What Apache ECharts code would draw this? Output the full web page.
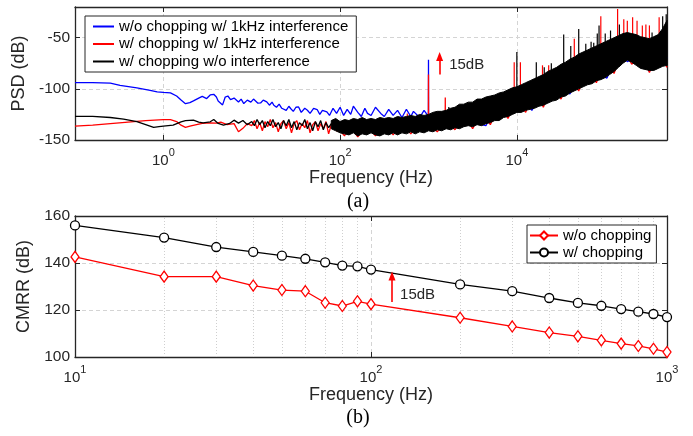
<!DOCTYPE html>
<html>
<head>
<meta charset="utf-8">
<script src="https://cdn.jsdelivr.net/npm/echarts@6/dist/echarts.min.js"></script>
<style>
html, body { margin: 0; padding: 0; background: #fff; }
#chart { width: 693px; height: 436px; }
</style>
</head>
<body>
<div id="chart"></div>
<script>
// ---- (a) PSD, frequencies written as log10(Hz) ----
var blueLogF = [-1.0,-0.8,-0.6,-0.49,-0.3,-0.15,-0.07,0.0,0.08,0.15,0.2,0.25,0.3,0.34,0.4,0.44,0.49,0.53,0.57,0.6,
    0.62,0.67,0.7,0.73,0.76,0.8,0.82,0.85,0.88,0.91,0.95,0.99,1.02,1.04,1.07,1.1,1.13,1.17,1.2,1.23,
    1.25,1.28,1.31,1.34,1.36,1.39,1.42,1.44,1.47,1.5,1.53,1.56,1.6,1.63,1.66,1.7,1.74,1.77,1.8,1.85,
    1.88,1.92,1.96,2.0,2.04,2.08,2.12,2.15,2.2,2.24,2.28,2.31,2.35,2.4,2.46,2.5,2.55,2.6,2.65,2.7,
    2.75,2.8,2.83,2.9,2.95,2.999,3.0,3.001,
    3.1,3.2,3.3,3.4,3.5,3.65,3.75,3.9,4.05,4.17,4.3,4.45,4.6,4.75,4.9,5.02,5.15,5.25,5.4,5.5,5.6,5.7];
var blueDb = [-94,-94,-94.5,-96.6,-99,-101.5,-103,-103.5,-104,-107,-111,-114.5,-113.5,-111.8,-109,-107.3,-109.5,-106,-105.3,-108,
    -111.8,-115.7,-108,-107,-110.5,-109,-108.5,-112.8,-110,-114.4,-111,-113,-110,-110.5,-114,-113.8,-111,-112.8,-116,-113,
    -116,-118,-115,-119,-117.7,-121,-117,-119.2,-122,-118,-117.7,-123,-119,-120.9,-124,-119,-120.2,-125,-121,-122.5,
    -126,-119,-124,-118,-126,-120,-125,-117,-123,-127,-119,-124,-126,-118,-124,-127,-120,-126,-121,-128,
    -120,-127,-122,-128,-121,-127,-71.6,-127,
    -133,-125,-135,-122,-133,-136,-118,-126,-108,-121,-100,-95,-105,-80,-85,-89.5,-62,-73.5,-65,-83,-62,-70];

var redLogF = [-1.0,-0.8,-0.6,-0.4,-0.2,0.0,0.08,0.15,0.2,0.25,0.3,0.35,0.44,0.53,0.6,0.65,0.72,0.8,0.85,0.9,0.95,1.0,
    1.03,1.06,1.09,1.12,1.15,1.18,1.21,1.24,1.27,1.3,1.33,1.36,1.39,1.42,1.45,1.48,1.51,1.54,1.57,1.6,
    1.63,1.66,1.69,1.72,1.75,1.78,1.81,1.84,1.87,1.9,1.93,1.96,2.0,
    2.05,2.1,2.2,2.3,2.4,2.5,2.6,2.7,2.8,2.9,2.999,3.0,3.001,3.1,3.189,3.19,3.191,3.3,3.4,3.5,
    3.6,3.7,3.8,3.9,4.0,4.1,4.2,4.3,4.4,4.5,4.6,4.7,4.8,4.9,5.0,5.1,5.2,5.3,5.4,5.5,5.6,5.7];
var redDb = [-136.5,-135.5,-134,-132.5,-131,-130,-130,-132,-135.5,-137.7,-136.5,-135.4,-133.8,-133.2,-133.5,-132.5,-135,-134,-142,-138.6,-134,-136,
    -131,-139,-133,-141,-132,-137,-130,-138,-133,-142,-134,-131,-139,-133,-143,-134,-131,-140,-134,-138,
    -131,-143,-135,-132,-141,-134,-139,-132,-144,-135,-131,-141,-141,
    -146,-135,-147,-136,-146,-134,-145,-133,-144,-132,-135,-86,-135,-142,-130,-108.5,-130,-140,-125,-139,
    -122,-135,-115,-129,-110,-123,-100,-118,-95,-110,-88,-102,-80,-94,-72,-85,-60,-76,-62,-84,-63,-79];

var blackLogF = [-1.0,-0.8,-0.6,-0.45,-0.3,-0.2,-0.11,-0.05,0.0,0.11,0.2,0.25,0.34,0.4,0.45,0.53,0.57,0.62,0.68,0.75,
    0.8,0.85,0.9,0.95,1.0,1.03,1.06,1.09,1.12,1.15,1.18,1.21,1.24,1.27,1.3,1.33,1.36,1.39,1.42,1.45,
    1.48,1.51,1.54,1.57,1.6,1.63,1.66,1.69,1.72,1.75,1.78,1.81,1.84,1.87,1.9];
var blackDb = [-127,-127,-128,-129.5,-132,-135,-137.7,-137,-136.4,-135.4,-132.2,-131,-130.6,-132.5,-133.2,-132.2,-129.9,-133.8,-135.4,-133.8,
    -130.6,-133.5,-131,-135,-132,-136,-130,-135,-131,-138,-132,-136,-130,-137,-133,-139,-131,-136,-130,-138,
    -132,-140,-133,-136,-130,-139,-133,-141,-132,-137,-131,-140,-133,-138,-134];

// dense part of the black trace: upper and lower edge of the band
var bandLogF = [1.9,1.95,2.0,2.05,2.1,2.15,2.2,2.25,2.3,2.35,2.4,2.45,2.5,2.55,2.6,2.65,2.7,2.75,2.8,2.85,
    2.9,2.95,3.0,3.05,3.1,3.15,3.2,3.25,3.3,3.35,3.4,3.45,3.5,3.55,3.6,3.65,3.7,3.75,3.8,3.85,
    3.9,3.95,4.0,4.05,4.1,4.15,4.2,4.25,4.3,4.35,4.4,4.45,4.5,4.55,4.6,4.65,4.7,4.75,4.8,4.85,
    4.9,4.95,5.0,5.05,5.1,5.15,5.2,5.25,5.3,5.35,5.4,5.45,5.5,5.55,5.6,5.65,5.7];
var bandTop = [-131,-129,-132,-130,-131,-129,-130,-128,-130,-129,-130,-128,-129,-128,-129,-127,-128,-127,-126,-127,
    -125,-126,-125,-123,-122,-122,-121,-119,-118,-115,-115,-113,-113,-110,-110,-108,-107,-106,-104,-103,
    -101,-99,-98,-96,-94,-92,-90,-88,-86,-83,-81,-79,-76,-74,-71,-69,-66,-64,-62,-60,
    -58,-56,-54,-52,-50,-48,-46,-45,-46,-47,-49,-50,-51,-49,-47,-41,-33];
var bandBottom = [-139,-141,-143,-144,-145,-143,-146,-144,-145,-143,-145,-146,-144,-145,-143,-145,-143,-144,-142,-144,
    -142,-143,-141,-142,-140,-141,-139,-140,-138,-139,-137,-136,-137,-135,-136,-134,-133,-131,-131,-128,
    -127,-125,-123,-123,-121,-120,-119,-117,-116,-114,-112,-111,-108,-107,-104,-102,-100,-98,-96,-95,
    -92,-91,-89,-86,-83,-79,-75,-72,-74,-77,-80,-81,-82,-82,-80,-78,-77];

// narrow spurs sticking out of the band
var blackSpurLogF = [3.23,3.51,4.0,4.22,4.31,4.39,4.53,4.61,4.7,4.78,4.84,4.87,4.91,4.93,5.0,5.06,5.16,5.53,5.65,5.69];
var blackSpurTop = [-117.7,-116,-64,-74,-79,-75,-47,-58,-41.5,-56,-54,-55,-46,-38,-46,-43,-37,-45,-29,-27];
var redSpurLogF = [2.76,3.97,4.04,4.29,4.36,4.65,4.95,5.14,5.21,5.25,5.31,5.36,5.42,5.46,5.5,5.61];
var redSpurTop = [-124,-74,-74,-77,-77,-51,-29,-22,-32,-33.5,-30,-33.5,-38,-37,-38,-30];

// ---- (b) CMRR ----
var cmrrFreq = [10,20,30,40,50,60,70,80,90,100,200,300,400,500,600,700,800,900,1000];
var cmrrWithout = [142.6,134.2,134.2,130.4,128.5,128,123.1,121.7,123.7,122.5,116.7,113,110.4,108.8,107.1,105.7,104.7,103.5,102.1];
var cmrrWith = [156,150.8,146.8,144.7,143.1,141.8,140.3,138.9,138.6,137.2,130.9,128,125.1,123,121.8,120.4,119.3,118.3,117];
var minorGridFreq = [20,30,40,50,60,70,80,90,200,300,400,500,600,700,800,900];

var FONT = '"Liberation Sans", Arial, sans-serif';
var INK = '#262626';
var GRIDC = '#d4d4d4';

function hz(e) { return Math.pow(10, e); }
function pairs(logF, db) {
    return logF.map(function (e, i) { return [hz(e), db[i]]; });
}
function bandMid(e) {
    var best = 0;
    bandLogF.forEach(function (b, i) {
        if (Math.abs(b - e) < Math.abs(bandLogF[best] - e)) best = i;
    });
    return (bandTop[best] + bandBottom[best]) / 2;
}
function spurData(logF, top) {
    return logF.map(function (e, i) { return [hz(e), top[i], bandMid(e)]; });
}
function spurRender(color) {
    return function (params, api) {
        var p1 = api.coord([api.value(0), api.value(1)]);
        var p2 = api.coord([api.value(0), api.value(2)]);
        return {
            type: 'line',
            shape: { x1: p1[0], y1: p1[1], x2: p2[0], y2: p2[1] },
            style: { stroke: color, lineWidth: 1.2 }
        };
    };
}
function powLabel(evenOnly) {
    return function (v) {
        var l = Math.log10(v);
        var e = Math.round(l);
        if (Math.abs(l - e) > 1e-6) return '';
        if (evenOnly && e % 2 !== 0) return '';
        return '{b|10}{s|' + e + '}';
    };
}
var powRich = {
    b: { fontSize: 15, color: INK, fontFamily: FONT, verticalAlign: 'bottom', lineHeight: 21 },
    s: { fontSize: 11, color: INK, fontFamily: FONT, verticalAlign: 'top', lineHeight: 12 }
};

function xAxisFor(grid, base, min, max, top, evenOnly, gap) {
    return {
        gridIndex: grid, type: 'log', logBase: base, min: min, max: max,
        position: top ? 'top' : 'bottom',
        name: top ? '' : 'Frequency (Hz)',
        nameLocation: 'middle', nameGap: gap,
        nameTextStyle: { fontSize: 18, color: INK, fontFamily: FONT },
        axisLine: { onZero: false, lineStyle: { color: INK, width: 1.3 } },
        axisTick: { inside: true, length: 5, lineStyle: { color: INK } },
        axisLabel: { show: !top, margin: 7, formatter: powLabel(evenOnly), rich: powRich },
        splitLine: { show: !top, lineStyle: { color: GRIDC, type: [4, 3] } }
    };
}
function yAxisFor(grid, min, max, interval, right, name) {
    return {
        gridIndex: grid, type: 'value', min: min, max: max, interval: interval,
        position: right ? 'right' : 'left',
        name: right ? '' : name,
        nameLocation: 'middle', nameGap: 37,
        nameTextStyle: { fontSize: 18, color: INK, fontFamily: FONT },
        axisLine: { onZero: false, lineStyle: { color: INK, width: 1.3 } },
        axisTick: { inside: true, length: 5, lineStyle: { color: INK } },
        axisLabel: {
            show: !right, margin: 5, fontSize: 15.5, color: INK, fontFamily: FONT,
            formatter: function (v) { return v % interval === 0 ? String(v) : ''; }
        },
        splitLine: { show: !right, lineStyle: { color: GRIDC, type: [4, 3] } }
    };
}

var psdNames = ['w/o chopping w/ 1kHz interference', 'w/ chopping w/ 1kHz interference', 'w/ chopping w/o interference'];

var chart = echarts.init(document.getElementById('chart'));
var option = {
    animation: false,
    backgroundColor: '#fff',
    grid: [
        { left: 75, top: 7, right: 26, height: 133 },
        { left: 75, top: 216, right: 26, height: 141 }
    ],
    xAxis: [
        xAxisFor(0, 100, 0.1, 5e5, false, true, 29),
        xAxisFor(0, 100, 0.1, 5e5, true, true, 29),
        xAxisFor(1, 10, 10, 1000, false, false, 29),
        xAxisFor(1, 10, 10, 1000, true, false, 29)
    ],
    yAxis: [
        yAxisFor(0, -150, -20, 50, false, 'PSD (dB)'),
        yAxisFor(0, -150, -20, 50, true),
        yAxisFor(1, 100, 160, 20, false, 'CMRR (dB)'),
        yAxisFor(1, 100, 160, 20, true)
    ],
    legend: [{
        orient: 'vertical', left: 85, top: 16, selectedMode: false,
        padding: [3, 8, 3, 8], itemGap: 2.5, itemWidth: 21, itemHeight: 2, icon: 'rect',
        backgroundColor: '#fff', borderColor: INK, borderWidth: 1,
        textStyle: { fontSize: 15, color: '#000', fontFamily: FONT },
        data: psdNames
    }, {
        orient: 'vertical', left: 527, top: 225, selectedMode: false,
        padding: [3, 5, 3, 2], itemGap: 2, itemWidth: 28, itemHeight: 10,
        backgroundColor: '#fff', borderColor: INK, borderWidth: 1,
        textStyle: { fontSize: 15, color: '#000', fontFamily: FONT },
        data: ['w/o chopping', 'w/ chopping']
    }],
    graphic: [
        { type: 'text', x: 358, y: 202, style: { text: '(a)', font: '20px "Liberation Serif", serif', fill: '#000', textAlign: 'center', textVerticalAlign: 'middle', align: 'center', verticalAlign: 'middle' } },
        { type: 'text', x: 358, y: 418, style: { text: '(b)', font: '20px "Liberation Serif", serif', fill: '#000', textAlign: 'center', textVerticalAlign: 'middle', align: 'center', verticalAlign: 'middle' } }
    ],
    series: [{
        name: psdNames[0], type: 'line', xAxisIndex: 0, yAxisIndex: 0, z: 2,
        data: pairs(blueLogF, blueDb), symbol: 'none', showSymbol: false,
        itemStyle: { color: '#0000ff' }, lineStyle: { color: '#0000ff', width: 1.3 }
    }, {
        name: psdNames[1], type: 'line', xAxisIndex: 0, yAxisIndex: 0, z: 3,
        data: pairs(redLogF, redDb), symbol: 'none', showSymbol: false,
        itemStyle: { color: '#ff0000' }, lineStyle: { color: '#ff0000', width: 1.3 },
        markLine: {
            silent: true, symbol: ['none', 'triangle'], symbolSize: [7, 9], z: 10,
            label: { show: false },
            lineStyle: { color: '#ff0000', width: 1.6, type: 'solid' },
            data: [[{ coord: [hz(3.126), -86] }, { coord: [hz(3.126), -68.4] }]]
        },
        markPoint: {
            silent: true, symbol: 'circle', symbolSize: 0,
            label: { show: true, position: 'right', distance: 3, formatter: '15dB', fontSize: 15, color: INK, fontFamily: FONT },
            data: [{ coord: [hz(3.2), -77] }]
        }
    }, {
        name: 'red spurs', type: 'custom', xAxisIndex: 0, yAxisIndex: 0, z: 3, silent: true,
        data: spurData(redSpurLogF, redSpurTop), renderItem: spurRender('#ff0000')
    }, {
        name: psdNames[2], type: 'line', xAxisIndex: 0, yAxisIndex: 0, z: 4,
        data: pairs(blackLogF, blackDb), symbol: 'none', showSymbol: false,
        itemStyle: { color: '#000' }, lineStyle: { color: '#000', width: 1.3 }
    }, {
        name: 'black band', type: 'custom', xAxisIndex: 0, yAxisIndex: 0, z: 4, silent: true,
        data: pairs(bandLogF, bandTop),
        renderItem: function (params, api) {
            if (params.dataIndex !== 0) return;
            var up = [], down = [];
            for (var i = 0; i < bandLogF.length; i++) {
                up.push(api.coord([hz(bandLogF[i]), bandTop[i]]));
                down.unshift(api.coord([hz(bandLogF[i]), bandBottom[i]]));
            }
            return { type: 'polygon', shape: { points: up.concat(down) }, style: { fill: '#000', stroke: '#000', lineWidth: 1 } };
        }
    }, {
        name: 'black spurs', type: 'custom', xAxisIndex: 0, yAxisIndex: 0, z: 4, silent: true,
        data: spurData(blackSpurLogF, blackSpurTop), renderItem: spurRender('#000')
    }, {
        name: 'w/o chopping', type: 'line', xAxisIndex: 2, yAxisIndex: 2, z: 3,
        data: cmrrFreq.map(function (f, i) { return [f, cmrrWithout[i]]; }),
        symbol: 'diamond', symbolSize: [8, 11], showAllSymbol: true,
        itemStyle: { color: '#fff', borderColor: '#ff0000', borderWidth: 1.3 },
        lineStyle: { color: '#ff0000', width: 1.3 },
        markLine: {
            silent: true, symbol: 'none', z: 1, label: { show: false },
            lineStyle: { color: '#cfcfcf', width: 1, type: [1, 2] },
            data: minorGridFreq.map(function (f) { return { xAxis: f }; })
        }
    }, {
        name: 'w/ chopping', type: 'line', xAxisIndex: 2, yAxisIndex: 2, z: 3,
        data: cmrrFreq.map(function (f, i) { return [f, cmrrWith[i]]; }),
        symbol: 'circle', symbolSize: 9, showAllSymbol: true,
        itemStyle: { color: '#fff', borderColor: '#000', borderWidth: 1.3 },
        lineStyle: { color: '#000', width: 1.3 },
        markLine: {
            silent: true, symbol: ['none', 'triangle'], symbolSize: [7, 9], z: 10,
            label: { show: false },
            lineStyle: { color: '#ff0000', width: 1.6, type: 'solid' },
            data: [[{ coord: [hz(2.071), 123.4] }, { coord: [hz(2.071), 134.5] }]]
        },
        markPoint: {
            silent: true, symbol: 'circle', symbolSize: 0,
            label: { show: true, position: 'right', distance: 3, formatter: '15dB', fontSize: 15, color: INK, fontFamily: FONT },
            data: [{ coord: [hz(2.088), 126.4] }]
        }
    }]
};
chart.setOption(option);
</script>
</body>
</html>
